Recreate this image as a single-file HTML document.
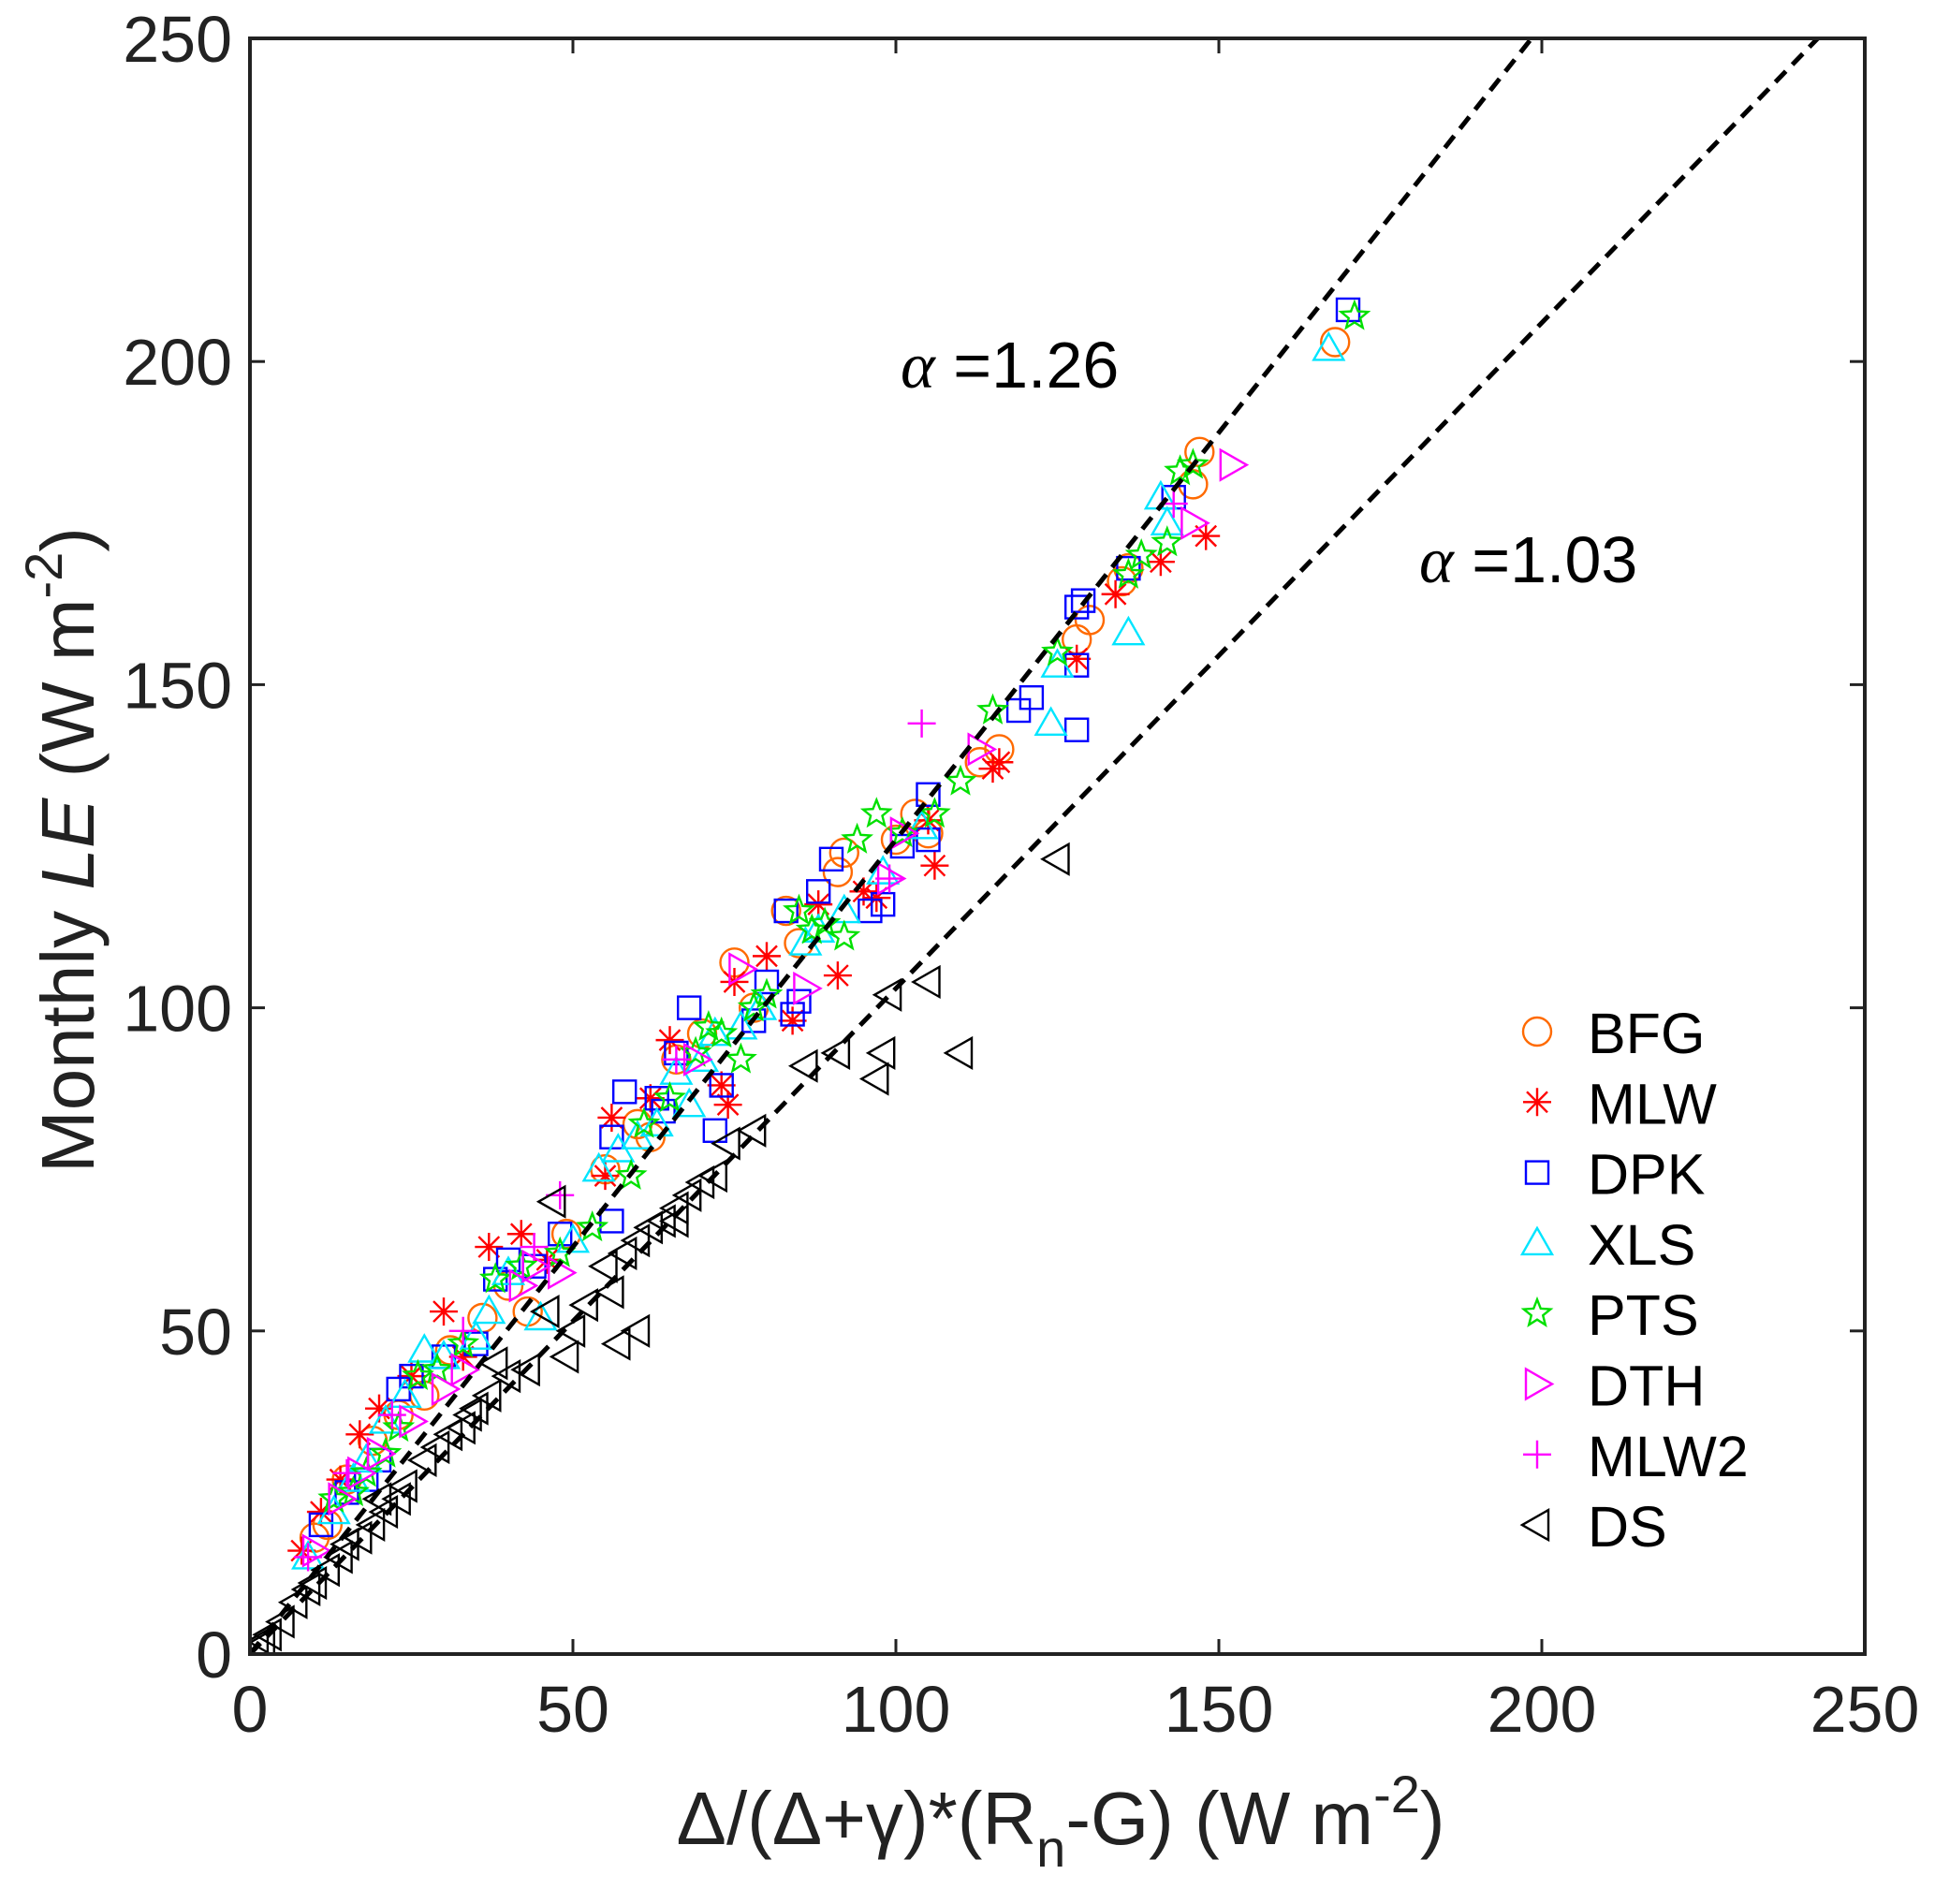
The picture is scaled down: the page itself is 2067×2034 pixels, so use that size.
<!DOCTYPE html>
<html><head><meta charset="utf-8"><style>
html,body{margin:0;padding:0;background:#fff;}
svg{display:block;font-family:"Liberation Sans",Arial,sans-serif;}
</style></head><body>
<svg id="chart" width="2067" height="2034" viewBox="0 0 2067 2034" xmlns="http://www.w3.org/2000/svg"></svg>
<script>
const xTicks=[0,50,100,150,200,250];
const yTicks=[0,50,100,150,200,250];
const seriesNames=["BFG","MLW","DPK","XLS","PTS","DTH","MLW2","DS"];
const bfgX=[147,146,168,136,130,128,116,113,103,100,92,91,83,75,85,70,66,60,62,49,43,40,31,27,23,19,15,12,10,36,135,105,78,55];
const bfgY=[186,181,203,168,160,157,140,138,130,126,124,121,115,107,110,96,92,82,80,65,53,57,47,40,37,33,27,20,18,52,166,127,100,75];
const mlwX=[148,141,134,128,116,115,106,105,91,95,97,84,80,75,74,73,65,62,56,55,42,37,30,25,20,17,14,11,8,33,88,46];
const mlwY=[173,169,164,154,138,137,122,129,105,118,117,98,108,104,85,88,95,86,83,74,65,63,53,43,38,34,27,22,16,46,116,61];
const dpkX=[170,143,136,128,129,128,128,121,119,105,105,101,96,90,88,83,85,84,78,73,72,68,66,63,58,56,56,48,44,38,35,30,25,23,20,18,15,11,40,80,64,98];
const dpkY=[208,179,168,162,163,153,143,148,146,133,126,125,115,123,118,115,101,99,98,88,81,100,93,86,87,80,67,65,60,58,48,46,43,41,30,27,25,20,61,104,84,116];
const xlsX=[167,141,142,136,125,124,104,98,92,88,86,79,72,70,66,63,60,57,54,50,40,37,35,30,27,24,21,18,16,13,9,76,45,68];
const xlsY=[202,179,175,158,153,144,128,121,115,112,110,100,96,92,90,82,80,78,75,64,59,53,49,46,47,40,36,30,27,22,15,97,52,85];
const ptsX=[171,146,144,138,136,125,115,110,106,101,97,94,92,87,85,80,78,76,73,71,65,61,59,53,48,42,38,33,29,26,23,21,18,16,13,142,89,69];
const ptsY=[207,184,183,170,167,155,146,135,130,127,130,126,111,112,115,102,100,92,96,97,86,82,74,66,62,60,58,48,44,43,35,31,28,25,24,172,113,93];
const dthX=[152,146,113,99,76,69,48,44,42,33,30,25,20,17,14,10,86,101];
const dthY=[184,175,140,120,106,92,59,60,57,44,41,36,31,28,24,16,103,127];
const mlw2X=[104,48,143,99,44,33,22,15,9,66];
const mlw2Y=[144,71,178,120,63,50,37,28,15,92];
const dsX=[125,110,105,99,98,97,91,86,78,74,72,70,68,66,64,62,60,58,56,55,52,50,49,46,47,43,40,37,35,33,31,29,27,24,23,21,19,17,15,14,12,10,9,7,5,3,2,1,60,66,57,38,34,20];
const dsY=[123,93,104,102,93,89,93,91,81,79,74,73,71,69,67,66,64,62,56,60,54,50,46,53,70,44,43,40,38,35,34,32,30,26,24,22,20,18,17,15,13,11,10,8,5,3,2,1,50,67,48,45,37,24];
const alphas=[1.26,1.03];

const L=267,R=1992,T=41,B=1767;
const sx=v=>L+(v-0)/250*(R-L);
const sy=v=>B-(v-0)/250*(B-T);
const svg=document.getElementById('chart');
const NS='http://www.w3.org/2000/svg';
function mk(tag,attrs,parent){const e=document.createElementNS(NS,tag);for(const k in attrs)e.setAttribute(k,attrs[k]);(parent||svg).appendChild(e);return e;}

const clip=mk('clipPath',{id:'pc'});mk('rect',{x:L,y:T,width:R-L,height:B-T},clip);

function marker(type,cx,cy,color,parent){
  const sw=2.4;let e;
  if(type==='o'){e=mk('circle',{cx,cy,r:15,fill:'none',stroke:color,'stroke-width':sw},parent);}
  else if(type==='*'){const s=15,d=11;e=mk('path',{d:`M${cx-s},${cy}H${cx+s}M${cx},${cy-s}V${cy+s}M${cx-d},${cy-d}L${cx+d},${cy+d}M${cx-d},${cy+d}L${cx+d},${cy-d}`,stroke:color,'stroke-width':sw,fill:'none'},parent);}
  else if(type==='s'){e=mk('rect',{x:cx-12,y:cy-12,width:24,height:24,fill:'none',stroke:color,'stroke-width':sw},parent);}
  else if(type==='^'){e=mk('polygon',{points:`${cx},${cy-16} ${cx-16},${cy+12} ${cx+16},${cy+12}`,fill:'none',stroke:color,'stroke-width':sw},parent);}
  else if(type==='p'){let pts=[];for(let i=0;i<10;i++){const a=-Math.PI/2+i*Math.PI/5,r=i%2?6.5:15;pts.push((cx+r*Math.cos(a)).toFixed(1)+','+(cy+r*Math.sin(a)).toFixed(1));}e=mk('polygon',{points:pts.join(' '),fill:'none',stroke:color,'stroke-width':sw},parent);}
  else if(type==='>'){e=mk('polygon',{points:`${cx+16},${cy} ${cx-12},${cy-16} ${cx-12},${cy+16}`,fill:'none',stroke:color,'stroke-width':sw},parent);}
  else if(type==='+'){e=mk('path',{d:`M${cx-15},${cy}H${cx+15}M${cx},${cy-15}V${cy+15}`,stroke:color,'stroke-width':sw,fill:'none'},parent);}
  else if(type==='<'){e=mk('polygon',{points:`${cx-16},${cy} ${cx+12},${cy-16} ${cx+12},${cy+16}`,fill:'none',stroke:color,'stroke-width':sw},parent);}
  return e;
}
const series=[
 {n:'bfg',x:bfgX,y:bfgY,t:'o',c:'#ff6a00'},
 {n:'mlw',x:mlwX,y:mlwY,t:'*',c:'#ff0000'},
 {n:'dpk',x:dpkX,y:dpkY,t:'s',c:'#0000ff'},
 {n:'xls',x:xlsX,y:xlsY,t:'^',c:'#00e5ff'},
 {n:'pts',x:ptsX,y:ptsY,t:'p',c:'#00e000'},
 {n:'dth',x:dthX,y:dthY,t:'>',c:'#ff00ff'},
 {n:'mlw2',x:mlw2X,y:mlw2Y,t:'+',c:'#ff00ff'},
 {n:'ds',x:dsX,y:dsY,t:'<',c:'#000000'}
];
const plotG=mk('g',{'clip-path':'url(#pc)'});


series.forEach(s=>{
  const g=mk('g',{},plotG);
  
  
  s.x.forEach((v,i)=>{const m=marker(s.t,sx(v),sy(s.y[i]),s.c,g);
    
    });
});
alphas.forEach(a=>{
  const ln=mk('line',{x1:sx(0),y1:sy(0),x2:sx(250),y2:sy(250*a),stroke:'#000','stroke-width':5,'stroke-dasharray':'16 10'},plotG);
  
  
});
const box=mk('rect',{x:L,y:T,width:R-L,height:B-T,fill:'none',stroke:'#222','stroke-width':4});


xTicks.forEach(v=>{
  const x=sx(v);
  mk('line',{x1:x,y1:B,x2:x,y2:B-16,stroke:'#222','stroke-width':3});
  mk('line',{x1:x,y1:T,x2:x,y2:T+16,stroke:'#222','stroke-width':3});
  const t=mk('text',{x:x,y:1850,'text-anchor':'middle','font-size':70,fill:'#222'});t.textContent=v;
  
  
});
yTicks.forEach(v=>{
  const y=sy(v);
  mk('line',{x1:L,y1:y,x2:L+16,y2:y,stroke:'#222','stroke-width':3});
  mk('line',{x1:R,y1:y,x2:R-16,y2:y,stroke:'#222','stroke-width':3});
  const t=mk('text',{x:248,y:y+25,'text-anchor':'end','font-size':70,fill:'#222'});t.textContent=v;
  
  
});
const lg=mk('g',{});


series.forEach((s,i)=>{
  const cy=1102+i*75.3;
  const e=mk('g',{},lg);
  
  
  marker(s.t,1642,cy,s.c,e);
  const t=mk('text',{x:1696,y:cy+23,'font-size':61,fill:'#000'},e);t.textContent=seriesNames[i];
});
</script>
<svg style="position:absolute;left:0;top:0" width="2067" height="2034">
<text x="962" y="414" font-family="Liberation Sans, sans-serif" font-size="70" fill="#000"><tspan font-family="Liberation Serif, serif" font-style="italic">α</tspan> =1.26</text>
<text x="1516" y="622" font-family="Liberation Sans, sans-serif" font-size="70" fill="#000"><tspan font-family="Liberation Serif, serif" font-style="italic">α</tspan> =1.03</text>
<text x="1133" y="1970" text-anchor="middle" font-family="Liberation Sans, sans-serif" font-size="80" fill="#222">Δ/(Δ+γ)*(R<tspan font-size="56" dy="24">n</tspan><tspan dy="-24">-G) (W m</tspan><tspan font-size="56" dy="-34">-2</tspan><tspan dy="34">)</tspan></text>
<text transform="translate(100,908) rotate(-90)" text-anchor="middle" font-family="Liberation Sans, sans-serif" font-size="80" fill="#222">Monthly <tspan font-style="italic">LE</tspan> (W m<tspan font-size="56" dy="-34">-2</tspan><tspan dy="34">)</tspan></text>
</svg>
</body></html>
